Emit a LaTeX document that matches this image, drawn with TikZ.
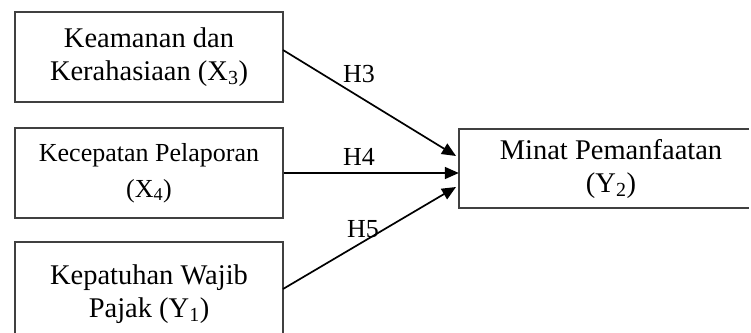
\documentclass[tikz,border=0pt]{standalone}
\usepackage{fontspec}
\setmainfont{Liberation Serif}
\usetikzlibrary{arrows.meta,calc}
\begin{document}
\begin{tikzpicture}[x=1pt,y=-1pt,
  boxline/.style={draw=black!75, line width=1.6pt},
  box/.style={boxline, rectangle, inner sep=0pt, align=center,
    font=\fontsize{28.5}{33}\selectfont},
  opentext/.style={rectangle, inner sep=0pt, align=center, font=\fontsize{28.5}{33}\selectfont},
  conn/.style={line width=1.7pt, -{Triangle[length=14pt,width=12pt]}},
  hlab/.style={font=\fontsize{26}{30}\selectfont, inner sep=0pt}]
\useasboundingbox (0,0) rectangle (751,332);
\node[box, minimum width=268pt, minimum height=90pt] (b1) at (149,57) {Keamanan dan\\Kerahasiaan (X\textsubscript{3})};
\node[box, minimum width=268pt, minimum height=90pt, font=\fontsize{26}{36}\selectfont] (b2) at (149,173) {Kecepatan Pelaporan\\(X\textsubscript{4})};
\node[opentext, minimum width=268pt, minimum height=104pt] (b3) at (149,294) {Kepatuhan Wajib\\Pajak (Y\textsubscript{1})};
\draw[boxline] (b3.south west) -- (b3.north west) -- (b3.north east) -- (b3.south east);
\node[opentext, minimum width=304pt, minimum height=79pt] (y2) at (611,168.5) {Minat Pemanfaatan\\(Y\textsubscript{2})};
\coordinate (y2ne) at (y2.north east -| 749,0);
\coordinate (y2se) at (y2.south east -| 749,0);
\draw[boxline] (y2ne) -- (y2.north west) -- (y2.south west) -- (y2se);
\coordinate (s3) at (283,50);
\coordinate (s5) at (283,289);
\coordinate (t3) at (456,156);
\coordinate (t5) at (456,187);
\draw[conn] (s3) -- (t3);
\draw[conn] (b2.east) -- (y2.west |- b2.east);
\draw[conn] (s5) -- (t5);
\node[hlab] (h3) at (359,74) {H3};
\node[hlab] (h4) at (359,157) {H4};
\node[hlab] (h5) at (363,229) {H5};
\end{tikzpicture}
\end{document}
